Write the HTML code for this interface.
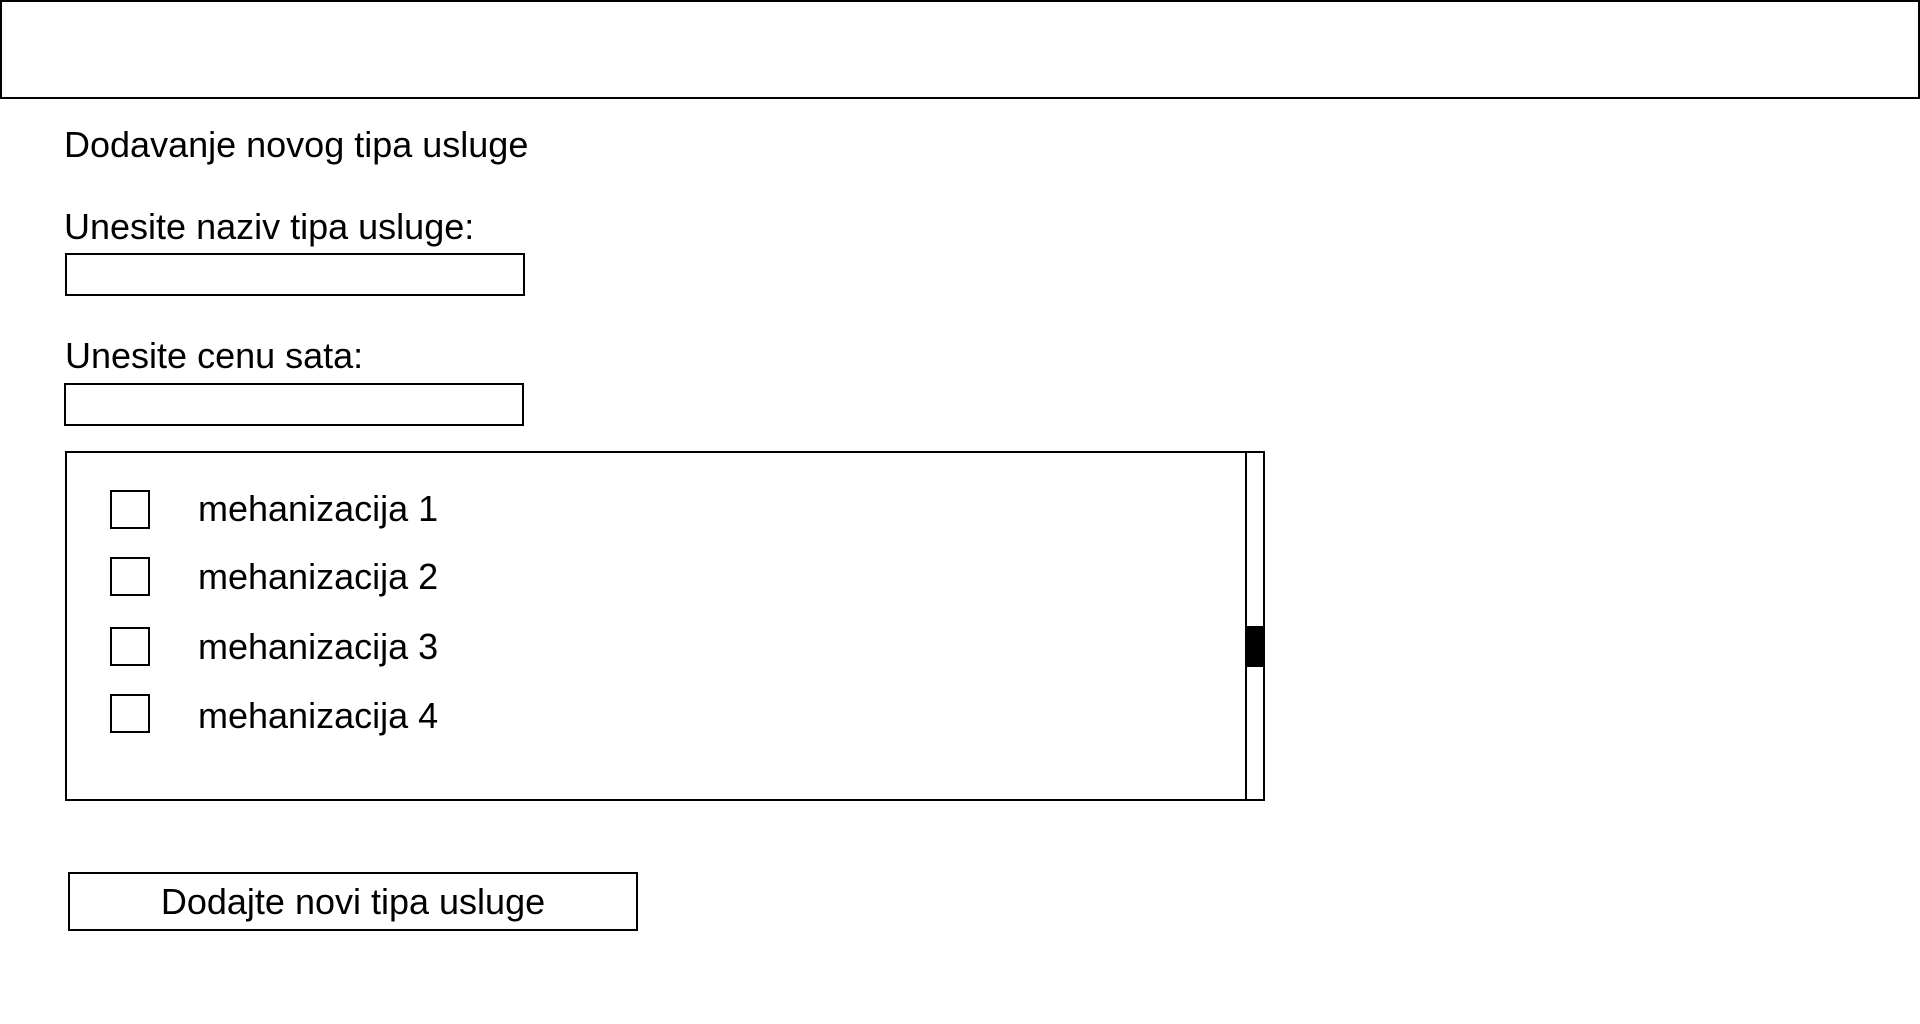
<!DOCTYPE html>
<html><head><meta charset="utf-8"><style>
body{margin:0;width:1920px;height:1024px;background:#fff;position:relative;overflow:hidden;font-family:"Liberation Sans",sans-serif;color:#000}
.b{position:absolute;border:2px solid #000;box-sizing:border-box}
.t{position:absolute;font-size:36px;line-height:40px;white-space:nowrap}
</style></head><body>
<div class="b" style="left:0;top:0;width:1920px;height:99px"></div>
<div class="t" style="left:64px;top:125px">Dodavanje novog tipa usluge</div>
<div class="t" style="left:64px;top:207px">Unesite naziv tipa usluge:</div>
<div class="b" style="left:65px;top:253px;width:460px;height:43px"></div>
<div class="t" style="left:65px;top:336px">Unesite cenu sata:</div>
<div class="b" style="left:64px;top:383px;width:460px;height:43px"></div>
<div class="b" style="left:65px;top:451px;width:1200px;height:350px"></div>
<div class="b" style="left:1245px;top:451px;width:20px;height:350px"></div>
<div style="position:absolute;left:1245px;top:626px;width:20px;height:41px;background:#000"></div>
<div class="b" style="left:110px;top:490px;width:40px;height:39px"></div>
<div class="b" style="left:110px;top:557px;width:40px;height:39px"></div>
<div class="b" style="left:110px;top:627px;width:40px;height:39px"></div>
<div class="b" style="left:110px;top:694px;width:40px;height:39px"></div>
<div class="t" style="left:198px;top:489px">mehanizacija 1</div>
<div class="t" style="left:198px;top:557px">mehanizacija 2</div>
<div class="t" style="left:198px;top:627px">mehanizacija 3</div>
<div class="t" style="left:198px;top:696px">mehanizacija 4</div>
<div class="b" style="left:68px;top:872px;width:570px;height:59px"></div>
<div class="t" style="left:68px;top:882px;width:570px;text-align:center">Dodajte novi tipa usluge</div>
</body></html>
